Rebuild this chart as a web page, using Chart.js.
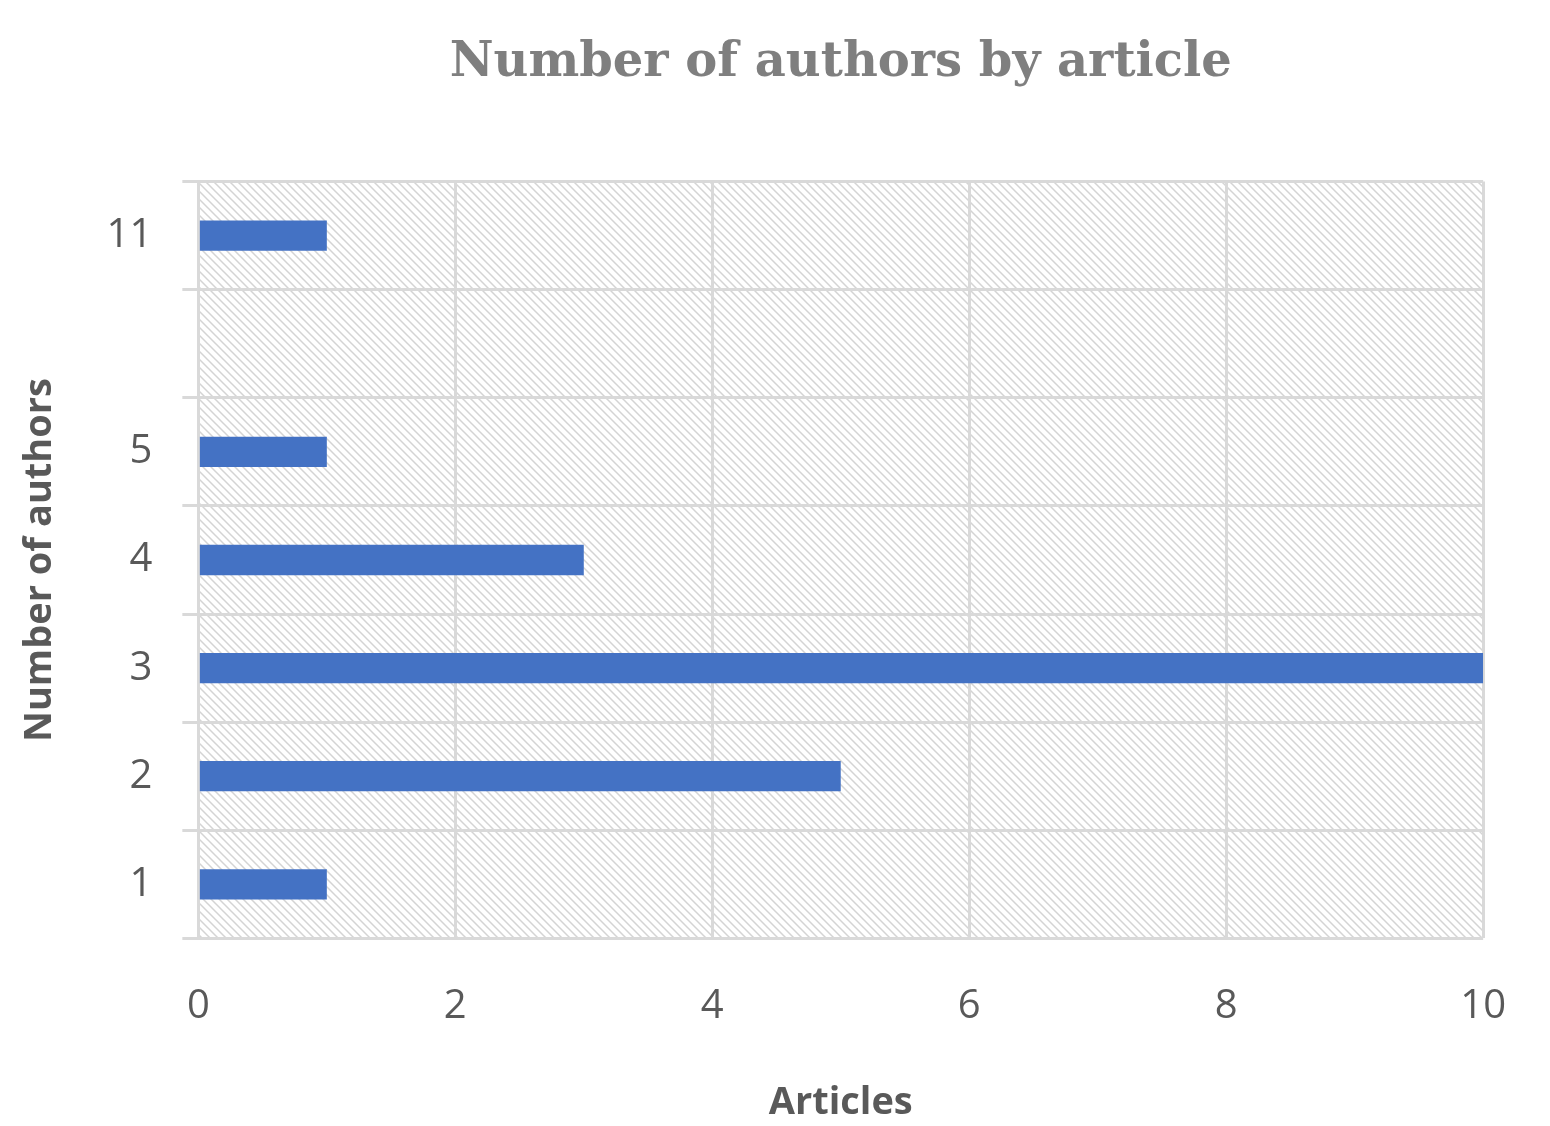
<!DOCTYPE html>
<html>
<head>
<meta charset="utf-8">
<script src="https://cdn.jsdelivr.net/npm/chart.js@4"></script>
<style>
  html, body { margin: 0; padding: 0; background: #fff; }
  #wrap { width: 1550px; height: 1126px; }
</style>
</head>
<body>
<div id="wrap"><canvas id="chart" width="1550" height="1126"></canvas></div>
<script>
// categories top to bottom, as they appear in the picture
const authorLabels = ['11', '', '5', '4', '3', '2', '1'];
const articleCounts = [1, 0, 1, 3, 10, 5, 1];
const xTicks = [0, 2, 4, 6, 8, 10];

// diagonal hatch for the plot area
function hatch() {
  const c = document.createElement('canvas');
  c.width = 8; c.height = 8;
  const g = c.getContext('2d');
  g.fillStyle = '#fff';
  g.fillRect(0, 0, 8, 8);
  g.strokeStyle = '#d4d4d4';
  g.lineWidth = 1.5;
  g.beginPath();
  g.moveTo(-2, -2); g.lineTo(10, 10);
  g.moveTo(-2, 6); g.lineTo(2, 10);
  g.moveTo(6, -2); g.lineTo(10, 2);
  g.stroke();
  return g.createPattern(c, 'repeat');
}

const bgPlugin = {
  id: 'bg',
  beforeDraw(chart) {
    const { ctx, chartArea: a } = chart;
    ctx.save();
    ctx.fillStyle = hatch();
    ctx.fillRect(a.left, a.top, a.right - a.left, a.bottom - a.top);
    ctx.restore();
  }
};

new Chart(document.getElementById('chart'), {
  type: 'bar',
  data: {
    labels: authorLabels,
    datasets: [{
      data: articleCounts,
      backgroundColor: '#4472c4',
      barPercentage: 0.28,
      categoryPercentage: 1
    }]
  },
  plugins: [bgPlugin],
  options: {
    indexAxis: 'y',
    responsive: false,
    animation: false,
    layout: { padding: { top: 35, right: 18, left: 13, bottom: 0 } },
    plugins: {
      legend: { display: false },
      tooltip: { enabled: false },
      title: {
        display: true,
        fullSize: false,
        text: 'Number of authors by article',
        color: '#7f7f7f',
        font: { family: 'DejaVu Serif', size: 48, weight: 'bold' },
        padding: { top: 0, bottom: 89 }
      }
    },
    scales: {
      x: {
        min: 0, max: 10,
        afterBuildTicks(axis) { axis.ticks = xTicks.map(v => ({ value: v })); },
        grid: { color: '#d9d9d9', lineWidth: 3, drawTicks: false },
        border: { display: false },
        ticks: { color: '#595959', padding: 44, font: { family: 'Open Sans', size: 40 } },
        title: {
          display: true, text: 'Articles', color: '#595959',
          font: { family: 'Open Sans', size: 38, weight: 'bold' }, padding: { top: 6, bottom: 0 }
        }
      },
      y: {
        grid: { color: '#d9d9d9', lineWidth: 3, offset: true, tickLength: 16 },
        border: { display: false },
        ticks: { color: '#595959', padding: 30, font: { family: 'Open Sans', size: 40 } },
        title: {
          display: true, text: 'Number of authors', color: '#595959',
          font: { family: 'Open Sans', size: 38, weight: 'bold' }, padding: { bottom: 14 }
        }
      }
    }
  }
});
</script>
</body>
</html>
